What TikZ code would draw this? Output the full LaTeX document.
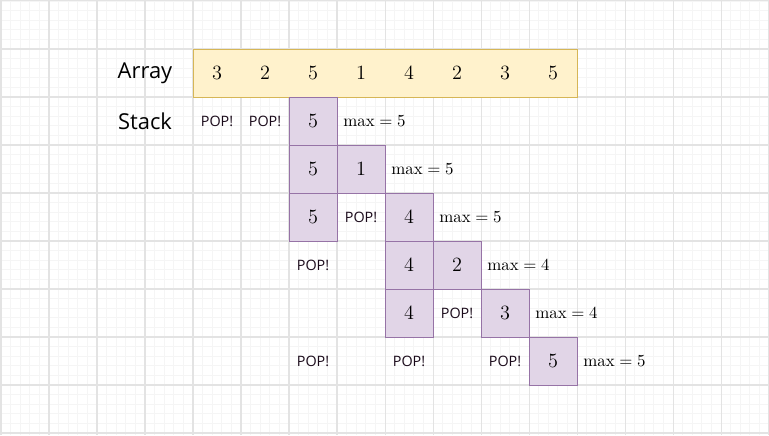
\documentclass[tikz,border=0pt]{standalone}
\usepackage{fontspec}
\setsansfont{Open Sans}
\usetikzlibrary{positioning}
\definecolor{arrfill}{HTML}{FFF2CC}
\definecolor{arrdraw}{HTML}{D6B656}
\definecolor{stkfill}{HTML}{E1D5E7}
\definecolor{stkdraw}{HTML}{9673A6}
\definecolor{popcol}{HTML}{1A0A1A}
\definecolor{gridmajor}{HTML}{E3E3E3}
\definecolor{gridminor}{HTML}{F5F5F5}

\begin{document}
\begin{tikzpicture}[
            node distance=0pt,
            arrbox/.style={rectangle, draw=arrdraw, fill=arrfill, minimum width=8cm, minimum height=1cm, inner sep=0pt},
            cell/.style={rectangle, draw=stkdraw, fill=stkfill, minimum size=1cm, inner sep=0pt, font=\fontsize{11.5}{13}\selectfont},
            title/.style={font=\sffamily\fontsize{13}{15}\selectfont},
            pop/.style={font=\sffamily\fontsize{8.5}{10}\selectfont, text=popcol},
            maxtext/.style={font=\fontsize{10}{12}\selectfont}
        ]
            \useasboundingbox (-0.0208,-0.0417) rectangle (16,9.0208);
            % background grid
            \draw[gridminor, line width=0.4pt, step=0.2] (-0.0208,-0.0417) grid (16,9.0208);
            \draw[gridmajor, line width=0.6pt, step=1] (-0.0208,-0.0417) grid (16,9.0208);

            \node[title] (arrlabel) at (3,7.5) {Array};
            \node[title] (stklabel) at (3,6.5) {Stack};
            \node[arrbox] (arr) at (8,7.5) {};
            \foreach \v [count=\i from 0] in {3,2,5,1,4,2,3,5}
                \node[font=\fontsize{11.5}{13}\selectfont] (a\i) at (4.5+\i,7.5) {$\v$};

            % stack contents, row by row
            \foreach \r/\c/\v in {1/2/5, 2/2/5, 2/3/1, 3/2/5, 3/4/4, 4/4/4, 4/5/2, 5/4/4, 5/6/3, 6/7/5}
                \node[cell] (s\r\c) at (4.5+\c,7.5-\r) {$\v$};
            \foreach \r/\c in {1/0, 1/1, 3/3, 4/2, 5/5, 6/2, 6/4, 6/6}
                \node[pop] (p\r\c) at (4.5+\c,7.5-\r) {POP!};
            \foreach \r/\c/\m in {1/2/5, 2/3/5, 3/4/5, 4/5/4, 5/6/4, 6/7/5}
                \node[maxtext, right=of s\r\c] (m\r) {$\mathrm{max} = \m$};
        \end{tikzpicture}
\end{document}
